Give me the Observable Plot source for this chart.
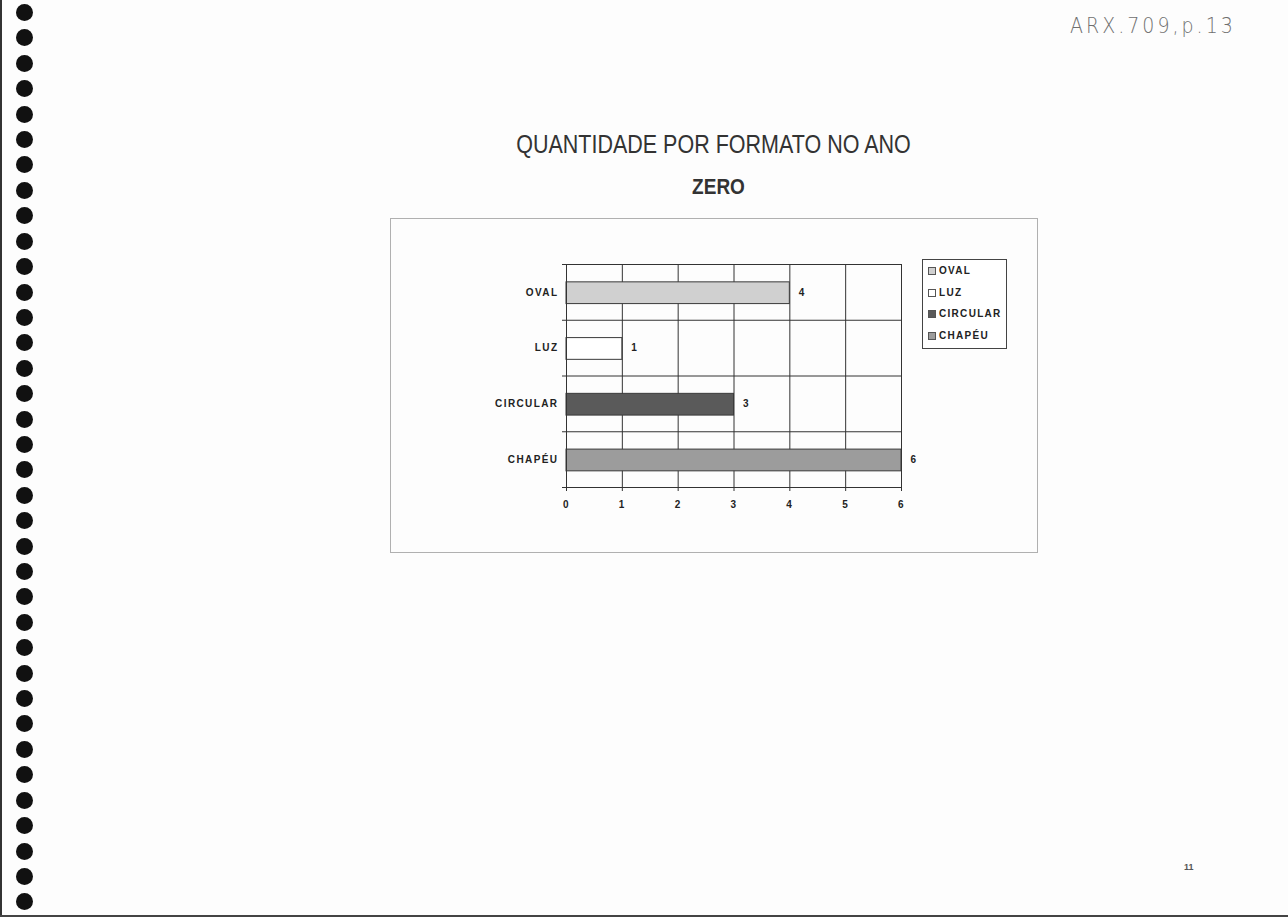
<!DOCTYPE html>
<html>
<head>
<meta charset="utf-8">
<script src="https://cdn.jsdelivr.net/npm/d3@7"></script>
<script src="https://cdn.jsdelivr.net/npm/@observablehq/plot@0.6"></script>
<style>
  html, body { margin: 0; padding: 0; }
  body { width: 1288px; height: 917px; position: relative; overflow: hidden; background: #fdfdfd; font-family: "Liberation Sans", Arial, sans-serif; color: #2a2a2a; }
  .abs { position: absolute; }
  #edgeL { left: 0; top: 0; width: 2px; height: 917px; background: #333; }
  #edgeB { left: 0; top: 915px; width: 1288px; height: 2px; background: #444; }
  .dot { position: absolute; width: 17px; height: 17px; border-radius: 50%; background: #111; }
  #title { left: 390px; width: 647px; top: 131px; text-align: center; font-size: 21.5px; line-height: 28px; transform: scaleY(1.2); color: #333; }
  #subtitle { left: 395px; width: 647px; top: 174px; text-align: center; font-size: 19px; font-weight: bold; line-height: 26px; transform: scaleY(1.2); color: #333; }
  #frame { left: 390px; top: 218px; width: 646px; height: 333px; border: 1px solid #b0b0b0; }
  #chart { left: 390px; top: 218px; }
  .xlchart text { letter-spacing: 1.4px; }
  #legend { left: 922px; top: 259px; width: 83px; height: 88px; border: 1px solid #444; background: #fff; }
  .lrow { position: absolute; left: 0; height: 14px; width: 84px; font-size: 10px; font-weight: bold; letter-spacing: 1.3px; line-height: 14px; color: #222; }
  .sw { position: absolute; left: 5px; top: 3px; width: 6px; height: 6px; border: 1px solid #555; }
  .lt { position: absolute; left: 16px; top: 0; }
  #note { left: 1070px; top: 14px; font-family: "DejaVu Sans", sans-serif; font-weight: 200; font-size: 19px; letter-spacing: 3px; color: #6f6f6f; transform: scaleY(1.1); }
  #pagenum { left: 1184px; top: 862px; font-size: 9px; font-weight: bold; color: #555; }
</style>
</head>
<body>
<div id="edgeL" class="abs"></div>
<div id="edgeB" class="abs"></div>
<div id="dots"></div>
<div id="note" class="abs">ARX.709,p.13</div>
<div id="title" class="abs">QUANTIDADE POR FORMATO NO ANO</div>
<div id="subtitle" class="abs">ZERO</div>
<div id="frame" class="abs"></div>
<div id="chart" class="abs"></div>
<div id="legend" class="abs"></div>
<div id="pagenum" class="abs">11</div>
<script>
// ---- data ----
const categories = ["OVAL", "LUZ", "CIRCULAR", "CHAPÉU"];
const values = [4, 1, 3, 6];
const xTicks = [0, 1, 2, 3, 4, 5, 6];
const legendLabels = ["OVAL", "LUZ", "CIRCULAR", "CHAPÉU"];

// ---- styles ----
const fills = ["#d0d0d0", "#ffffff", "#5a5a5a", "#9c9c9c"];
const ink = "#333";

const data = categories.map((c, i) => ({category: c, value: values[i], pos: i, fill: fills[i]}));

// binding dots (page decoration)
const dotsEl = document.getElementById("dots");
for (let i = 0; i < 36; i++) {
  const d = document.createElement("div");
  d.className = "dot";
  d.style.left = (24.5 - 8.5) + "px";
  d.style.top = (12.5 + i * 25.41 - 8.5) + "px";
  dotsEl.appendChild(d);
}

const chart = Plot.plot({
  className: "xlchart",
  width: 647,
  height: 334,
  marginLeft: 176,
  marginRight: 136,
  marginTop: 46,
  marginBottom: 65,
  style: {fontFamily: "'Liberation Sans', Arial, sans-serif", fontSize: "10px", fontWeight: "bold", color: "#222", background: "transparent", overflow: "visible"},
  x: {domain: [0, 6]},
  y: {domain: [0, categories.length], reverse: true},
  marks: [
    Plot.ruleX(xTicks, {stroke: ink, strokeWidth: 1, strokeOpacity: 1}),
    Plot.ruleY(d3.range(categories.length + 1), {stroke: ink, strokeWidth: 1, strokeOpacity: 1}),
    Plot.rect(data, {
      x1: 0, x2: "value",
      y1: d => d.pos + 0.32, y2: d => d.pos + 0.71,
      fill: "fill", stroke: "#3a3a3a", strokeWidth: 1
    }),
    Plot.text(data, {x: "value", y: d => d.pos + 0.5, text: d => String(d.value), dx: 9, textAnchor: "start", fontWeight: "bold", fill: "#222"}),
    Plot.axisX(xTicks, {label: null, tickSize: 4, tickPadding: 9, stroke: ink, fill: "#222", tickFormat: d => String(d)}),
    Plot.axisY(d3.range(categories.length + 1), {label: null, tickSize: 4, tickFormat: () => "", stroke: ink}),
    Plot.axisY(data.map(d => d.pos + 0.5), {label: null, tickSize: 0, tickPadding: 8, tickFormat: v => categories[Math.floor(v)], fill: "#222"}),
    Plot.frame({stroke: ink, strokeWidth: 1})
  ]
});
document.getElementById("chart").appendChild(chart);

// legend
const legend = document.getElementById("legend");
legendLabels.forEach((lab, i) => {
  const row = document.createElement("div");
  row.className = "lrow";
  row.style.top = (4 + i * 21.7) + "px";
  const sw = document.createElement("div");
  sw.className = "sw";
  sw.style.background = fills[i];
  const t = document.createElement("div");
  t.className = "lt";
  t.textContent = lab;
  row.appendChild(sw);
  row.appendChild(t);
  legend.appendChild(row);
});
</script>
</body>
</html>
